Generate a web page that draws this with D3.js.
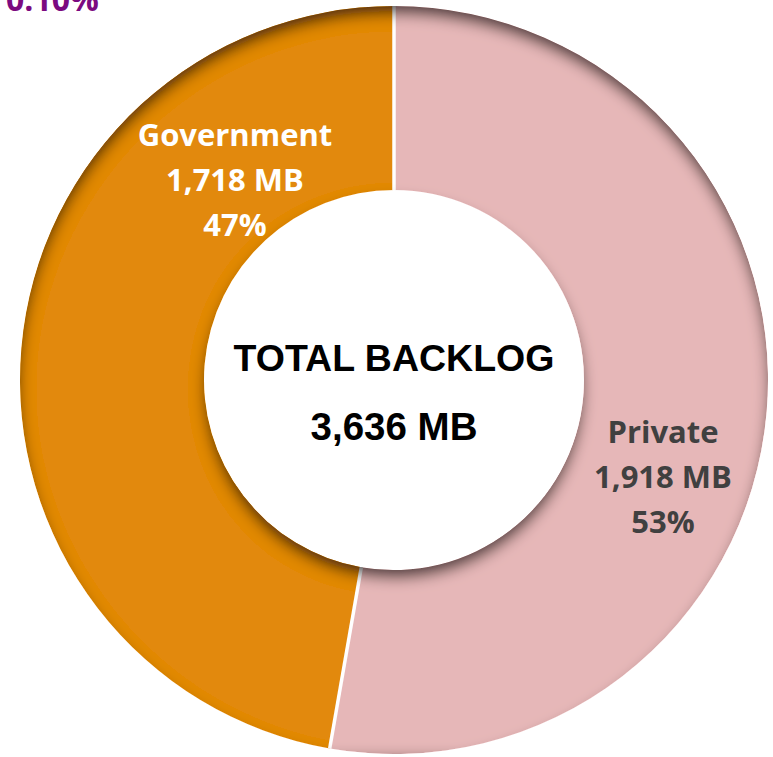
<!DOCTYPE html>
<html>
<head>
<meta charset="utf-8">
<script src="https://cdn.jsdelivr.net/npm/d3@7"></script>
<style>
  body { margin: 0; background: #fff; }
  svg { display: block; }
</style>
</head>
<body>
<svg id="donut" width="773" height="757"></svg>
<script>
// backlog split, in MB
var categories = ["Private", "Government"];
var values = [1918, 1718];
var percents = ["53%", "47%"];
var totalLabel = "TOTAL BACKLOG";
var totalValue = "3,636 MB";
var cornerNote = "0.10%";

var svg = d3.select("#donut"),
    cx = 394, cy = 380,
    outerR = 374, innerR = 190;

// inner shadow along the donut edges
var defs = svg.append("defs");
var f = defs.append("filter").attr("id", "inset")
    .attr("filterUnits", "userSpaceOnUse")
    .attr("x", -cx).attr("y", -cy).attr("width", 773).attr("height", 757);
f.append("feOffset").attr("in", "SourceAlpha").attr("dx", 0).attr("dy", 9).attr("result", "off");
f.append("feGaussianBlur").attr("in", "off").attr("stdDeviation", 7).attr("result", "blur");
f.append("feComposite").attr("in", "SourceAlpha").attr("in2", "blur")
    .attr("operator", "arithmetic").attr("k2", 1).attr("k3", -1).attr("result", "edge");
f.append("feFlood").attr("flood-color", "#20140a").attr("flood-opacity", 0.9);
f.append("feComposite").attr("in2", "edge").attr("operator", "in").attr("result", "shadow");
var m = f.append("feMerge");
m.append("feMergeNode").attr("in", "SourceGraphic");
m.append("feMergeNode").attr("in", "shadow");

var color = d3.scaleOrdinal().domain(categories).range(["#E6B7B8", "#E2890F"]);
var textColor = d3.scaleOrdinal().domain(categories).range(["#404040", "#ffffff"]);

var pie = d3.pie().value(function(d) { return d.value; }).sort(null);
var arc = d3.arc().innerRadius(innerR).outerRadius(outerR);

var data = categories.map(function(c, i) {
  return { name: c, value: values[i], pct: percents[i] };
});

var g = svg.append("g").attr("transform", "translate(" + cx + "," + cy + ")");

var ring = g.append("g").attr("filter", "url(#inset)");
ring.selectAll("path")
  .data(pie(data))
  .enter().append("path")
    .attr("d", arc)
    .attr("fill", function(d) { return color(d.data.name); });
// white separators drawn on top of the shadowed ring
ring.selectAll("line")
  .data(pie(data))
  .enter().append("line")
    .attr("x1", function(d) { return innerR * Math.sin(d.startAngle); })
    .attr("y1", function(d) { return -innerR * Math.cos(d.startAngle); })
    .attr("x2", function(d) { return outerR * Math.sin(d.startAngle); })
    .attr("y2", function(d) { return -outerR * Math.cos(d.startAngle); })
    .attr("stroke", "#fff")
    .attr("stroke-width", 3.5);

// slice labels
var labelPos = { "Private": [269, 63], "Government": [-159, -234] };
var fmt = d3.format(",");
var lab = g.selectAll(".lab")
  .data(data)
  .enter().append("text")
    .attr("class", "lab")
    .attr("text-anchor", "middle")
    .attr("font-family", "'Open Sans', sans-serif")
    .attr("font-weight", "bold")
    .attr("font-size", 31)
    .attr("fill", function(d) { return textColor(d.name); })
    .attr("transform", function(d) { return "translate(" + labelPos[d.name] + ")"; });

lab.each(function(d) {
  var t = d3.select(this);
  [d.name, fmt(d.value) + " MB", d.pct].forEach(function(s, i) {
    t.append("tspan").attr("x", 0).attr("y", i * 45).text(s);
  });
});

// centre text
g.append("text")
  .attr("text-anchor", "middle")
  .attr("y", -9)
  .attr("font-family", "'Liberation Sans', Arial, sans-serif")
  .attr("font-weight", "bold")
  .attr("font-size", 37.5)
  .attr("fill", "#000")
  .text(totalLabel);

g.append("text")
  .attr("text-anchor", "middle")
  .attr("y", 60)
  .attr("font-family", "'Liberation Sans', Arial, sans-serif")
  .attr("font-weight", "bold")
  .attr("font-size", 38.5)
  .attr("fill", "#000")
  .text(totalValue);

svg.append("text")
  .attr("x", 6)
  .attr("y", 11)
  .attr("font-family", "'Open Sans', sans-serif")
  .attr("font-weight", "bold")
  .attr("font-size", 32)
  .attr("fill", "#7B0A80")
  .text(cornerNote);
</script>
</body>
</html>
